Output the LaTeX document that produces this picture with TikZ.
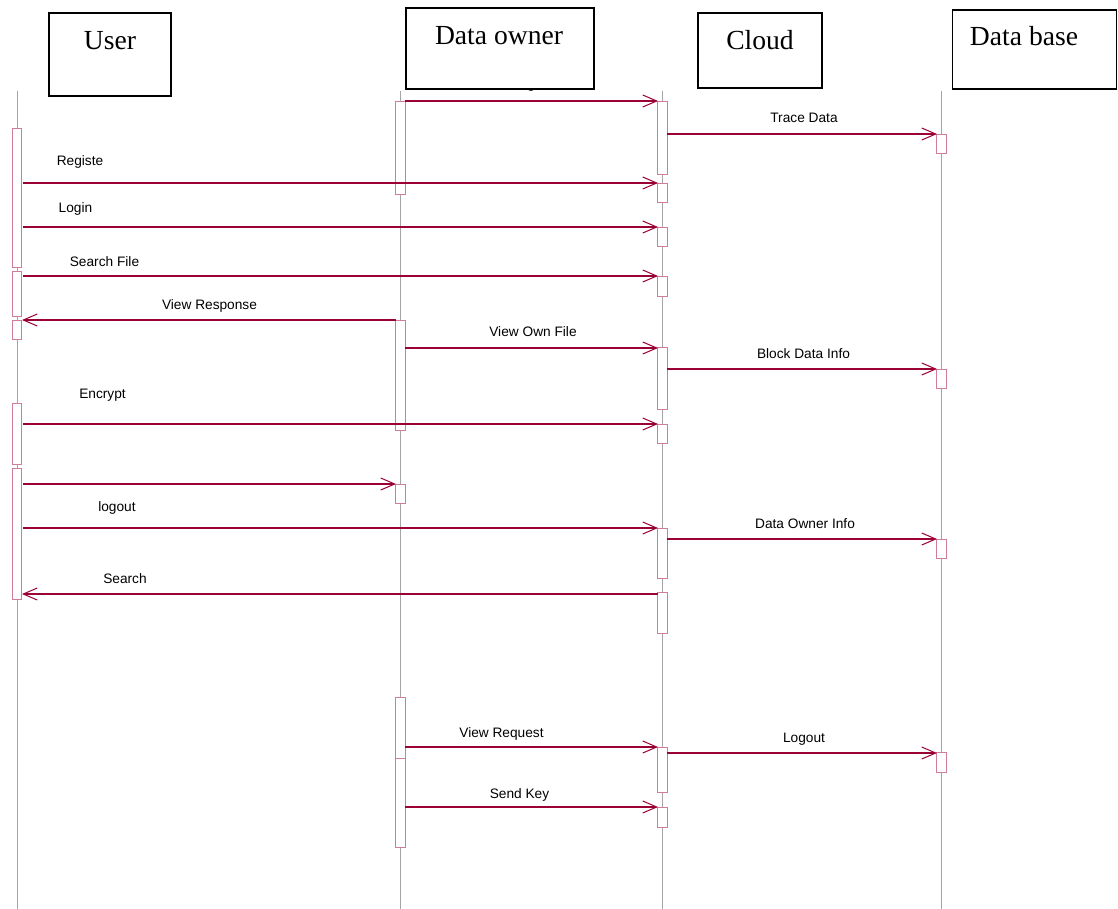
\documentclass[tikz,border=0pt]{standalone}
\usepackage{fontspec}
\setmainfont{Liberation Serif}
\newfontfamily\msgfont{Liberation Sans}
\usetikzlibrary{arrows.meta}

\definecolor{msgred}{RGB}{155,0,55}
\definecolor{barpink}{RGB}{208,125,152}
\definecolor{lifegray}{RGB}{165,165,165}

% activation bar centred on a lifeline: x, top, bottom
\newcommand\actbar[3]{\draw[actbox] (#1-4.75,#2) rectangle (#1+4.75,#3);}

\begin{document}
\begin{tikzpicture}[x=1pt,y=-1pt,
  headbox/.style={draw=black, line width=1.2pt, fill=white, inner sep=0pt},
  headtext/.style={anchor=base, inner sep=0pt, font=\fontsize{27.6}{30}\selectfont},
  lifeline/.style={draw=lifegray, line width=0.6pt},
  actbox/.style={draw=barpink, line width=0.8pt, fill=white},
  msg/.style={draw=msgred, line width=1.1pt,
    -{Straight Barb[length=14pt,width=12pt,line width=1pt]}},
  lbl/.style={anchor=base, inner sep=0pt, font=\msgfont\fontsize{13.7}{16}\selectfont}]

\useasboundingbox (0,0) rectangle (1118,909);
\fill[white] (0,0) rectangle (1118,909);

% lifelines
\coordinate (uTop) at (17,91);    \coordinate (uBot) at (17,909);
\coordinate (oTop) at (400.5,91); \coordinate (oBot) at (400.5,909);
\coordinate (cTop) at (662.5,91); \coordinate (cBot) at (662.5,909);
\coordinate (dTop) at (941.5,91); \coordinate (dBot) at (941.5,909);
\draw[lifeline] (uTop) -- (uBot);
\draw[lifeline] (oTop) -- (oBot);
\draw[lifeline] (cTop) -- (cBot);
\draw[lifeline] (dTop) -- (dBot);

% activation bars: User
\actbar{17}{128}{267}
\actbar{17}{271}{316}
\actbar{17}{320}{339}
\actbar{17}{403}{464}
\actbar{17}{468}{599}
% Data owner
\actbar{400.5}{101}{194}
\actbar{400.5}{320}{430}
\actbar{400.5}{484}{503}
\actbar{400.5}{697}{758}
\actbar{400.5}{758}{847}
% Cloud
\actbar{662.5}{101}{174}
\actbar{662.5}{183}{202}
\actbar{662.5}{227}{246}
\actbar{662.5}{276}{296}
\actbar{662.5}{347}{409}
\actbar{662.5}{424}{443}
\actbar{662.5}{528}{578}
\actbar{662.5}{592}{633}
\actbar{662.5}{747}{792}
\actbar{662.5}{807}{827}
% Data base
\actbar{941.5}{134}{153}
\actbar{941.5}{369}{388}
\actbar{941.5}{539}{558}
\actbar{941.5}{752}{772}

% message end points
\coordinate (m1a) at (405,101);  \coordinate (m1b) at (658,101);
\coordinate (m2a) at (667,134);  \coordinate (m2b) at (937,134);
\coordinate (m3a) at (23,183);   \coordinate (m3b) at (658,183);
\coordinate (m4a) at (23,227);   \coordinate (m4b) at (658,227);
\coordinate (m5a) at (23,276);   \coordinate (m5b) at (658,276);
\coordinate (m6a) at (396,320);  \coordinate (m6b) at (22,320);
\coordinate (m7a) at (405,348);  \coordinate (m7b) at (658,348);
\coordinate (m8a) at (667,369);  \coordinate (m8b) at (937,369);
\coordinate (m9a) at (23,424);   \coordinate (m9b) at (658,424);
\coordinate (m10a) at (23,484);  \coordinate (m10b) at (396,484);
\coordinate (m11a) at (23,528);  \coordinate (m11b) at (658,528);
\coordinate (m12a) at (667,539); \coordinate (m12b) at (937,539);
\coordinate (m13a) at (658,594); \coordinate (m13b) at (22,594);
\coordinate (m14a) at (405,747); \coordinate (m14b) at (658,747);
\coordinate (m15a) at (667,753); \coordinate (m15b) at (937,753);
\coordinate (m16a) at (405,807); \coordinate (m16b) at (658,807);

% messages
\draw[msg] (m1a) -- (m1b);
\draw[msg] (m2a) -- (m2b);
\draw[msg] (m3a) -- (m3b);
\draw[msg] (m4a) -- (m4b);
\draw[msg] (m5a) -- (m5b);
\draw[msg] (m6a) -- (m6b);
\draw[msg] (m7a) -- (m7b);
\draw[msg] (m8a) -- (m8b);
\draw[msg] (m9a) -- (m9b);
\draw[msg] (m10a) -- (m10b);
\draw[msg] (m11a) -- (m11b);
\draw[msg] (m12a) -- (m12b);
\draw[msg] (m13a) -- (m13b);
\draw[msg] (m14a) -- (m14b);
\draw[msg] (m15a) -- (m15b);
\draw[msg] (m16a) -- (m16b);

% message labels
\node[lbl] (l1)  at (529,89)    {Login};
\node[lbl] (l2)  at (804,123)   {Trace Data};
\node[lbl] (l3)  at (80,166)    {Registe};
\node[lbl] (l4)  at (75.5,213)  {Login};
\node[lbl] (l5)  at (104.5,266) {Search File};
\node[lbl] (l6)  at (209.5,309) {View Response};
\node[lbl] (l7)  at (533,336)   {View Own File};
\node[lbl] (l8)  at (803.5,358) {Block Data Info};
\node[lbl] (l9)  at (102.5,398) {Encrypt};
\node[lbl] (l11) at (117,511)   {logout};
\node[lbl] (l12) at (805,528)   {Data Owner Info};
\node[lbl] (l13) at (125,583)   {Search};
\node[lbl] (l14) at (501.5,737) {View Request};
\node[lbl] (l15) at (804,742)   {Logout};
\node[lbl] (l16) at (519.5,798) {Send Key};

% participant heads
\node[headbox, minimum width=122pt, minimum height=83pt] (userbox)  at (110,54.5)   {};
\node[headbox, minimum width=188pt, minimum height=81pt] (ownerbox) at (500,48.5)   {};
\node[headbox, minimum width=124pt, minimum height=75pt] (cloudbox) at (760,50.5)   {};
\node[headbox, minimum width=164pt, minimum height=79pt] (dbbox)    at (1034.5,49.5) {};
\node[headtext] (usert)  at (110,50)  {User};
\node[headtext] (ownert) at (499,45)  {Data owner};
\node[headtext] (cloudt) at (760,50)  {Cloud};
\node[headtext] (dbt)    at (1024,46) {Data base};

\end{tikzpicture}
\end{document}
